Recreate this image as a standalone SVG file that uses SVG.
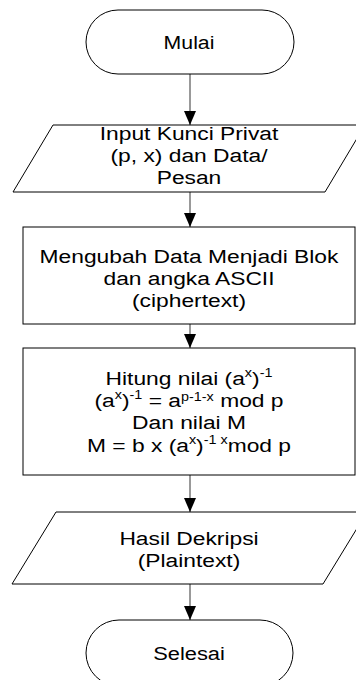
<svg xmlns="http://www.w3.org/2000/svg" width="356" height="680" viewBox="0 0 356 680">
<style>
.shape{fill:#fff;stroke:#000;stroke-width:1}
.conn{stroke:#555;stroke-width:1.2;fill:none}
text{font-family:"Liberation Sans",Arial,sans-serif;font-size:19px;fill:#000;text-anchor:middle}
.sup{font-size:12px}
</style>
<defs>
<marker id="ah" markerWidth="14" markerHeight="12" refX="14" refY="6" orient="auto" markerUnits="userSpaceOnUse">
<path d="M0,0 L14,6 L0,12 Z" fill="#000"/>
</marker>
</defs>
<rect width="356" height="680" fill="#fff"/>
<g id="connectors">
<line class="conn" x1="190" y1="74" x2="190" y2="125" marker-end="url(#ah)"/>
<line class="conn" x1="190" y1="192" x2="190" y2="227" marker-end="url(#ah)"/>
<line class="conn" x1="190" y1="324" x2="190" y2="348" marker-end="url(#ah)"/>
<line class="conn" x1="190" y1="475" x2="190" y2="512" marker-end="url(#ah)"/>
<line class="conn" x1="190" y1="584" x2="190" y2="620" marker-end="url(#ah)"/>
</g>
<g id="mulai">
<rect class="shape" x="86" y="10" width="208" height="64" rx="32" ry="32"/>
<g transform="translate(189 0) scale(1.12 1)"><text x="0" y="49">Mulai</text></g>
</g>
<g id="input">
<polygon class="shape" points="53,125 365,125 325,192 13,192"/>
<g transform="translate(189 0) scale(1.2 1)">
<text x="0" y="140">Input Kunci Privat</text>
<text x="0" y="162">(p, x) dan Data/</text>
<text x="0" y="184">Pesan</text>
</g>
</g>
<g id="ubah">
<rect class="shape" x="23" y="227" width="332" height="97"/>
<g transform="translate(189 0) scale(1.2 1)">
<text x="0" y="263">Mengubah Data Menjadi Blok</text>
<text x="0" y="285">dan angka ASCII</text>
<text x="0" y="307">(ciphertext)</text>
</g>
</g>
<g id="hitung">
<rect class="shape" x="23" y="348" width="332" height="127"/>
<g transform="translate(189 0) scale(1.2 1)">
<text x="0" y="385">Hitung nilai (a<tspan class="sup" dy="-8">x</tspan><tspan dy="8">)</tspan><tspan class="sup" dy="-8">-1</tspan></text>
<text x="0" y="407">(a<tspan class="sup" dy="-8">x</tspan><tspan dy="8">)</tspan><tspan class="sup" dy="-8">-1</tspan><tspan dy="8"> = a</tspan><tspan class="sup" dy="-6">p-1-x</tspan><tspan dy="6"> mod p</tspan></text>
<text x="0" y="429">Dan nilai M</text>
<text x="0" y="452">M = b x (a<tspan class="sup" dy="-8">x</tspan><tspan dy="8">)</tspan><tspan class="sup" dy="-8">-1 x</tspan><tspan dy="8">mod p</tspan></text>
</g>
</g>
<g id="hasil">
<polygon class="shape" points="56,512 367,512 323,584 12,584"/>
<g transform="translate(189 0) scale(1.2 1)">
<text x="0" y="545">Hasil Dekripsi</text>
<text x="0" y="567">(Plaintext)</text>
</g>
</g>
<g id="selesai">
<rect class="shape" x="86" y="620" width="207" height="66" rx="33" ry="33"/>
<g transform="translate(189 0) scale(1.15 1)"><text x="0" y="660">Selesai</text></g>
</g>
</svg>
